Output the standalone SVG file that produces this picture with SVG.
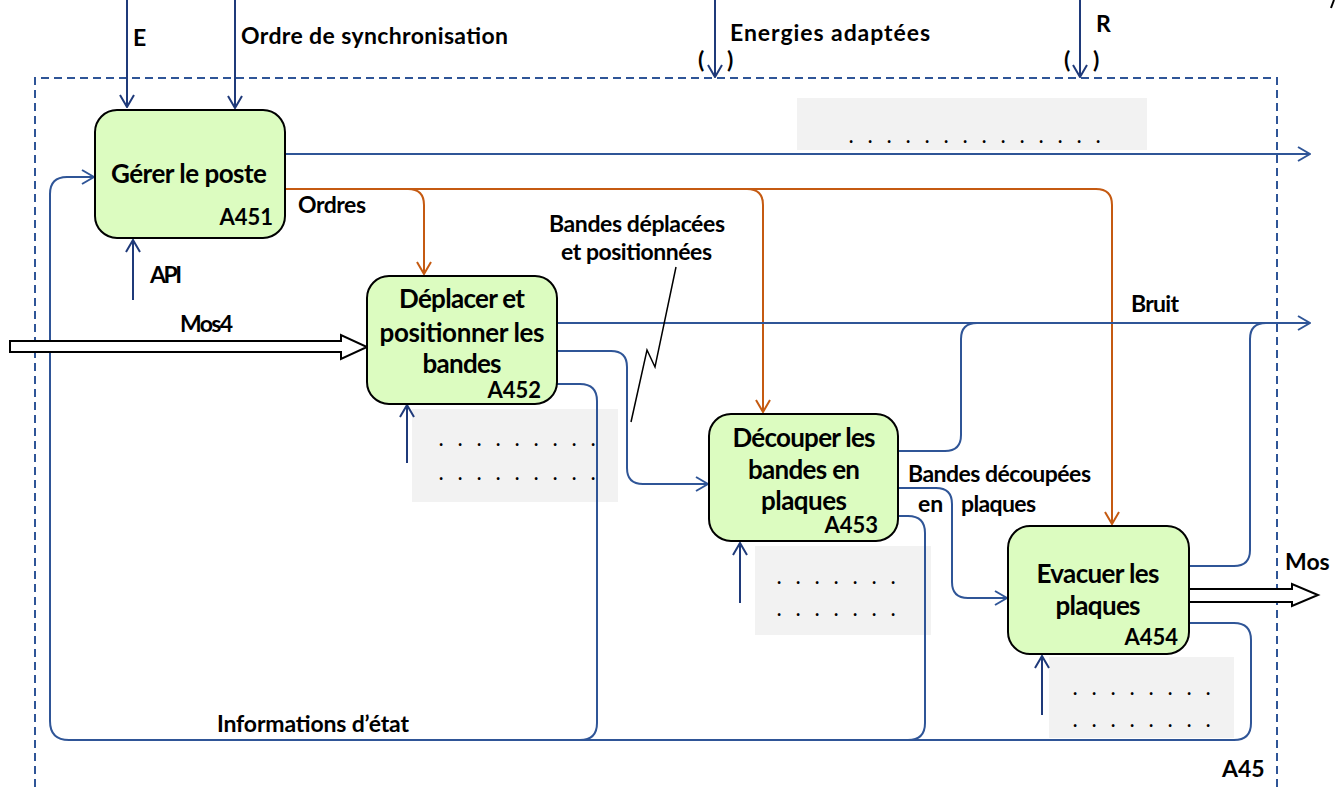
<svg xmlns="http://www.w3.org/2000/svg" width="1335" height="787" viewBox="0 0 1335 787">
<defs>
<style>
.t{font-family:Lato,"Liberation Sans",sans-serif;font-weight:bold;fill:#000}
.lb{font-size:23px}
.bx{font-size:26px}
.id{font-size:22px}
.dot{font-family:Lato,"Liberation Sans",sans-serif;font-weight:bold;font-size:18px;fill:#000}
.node{fill:#dcfcc0;stroke:#000;stroke-width:2}
.note{fill:#f2f2f2}
.bl{fill:none;stroke:#2f5597;stroke-width:2}
.nv{fill:none;stroke:#1f3a7a;stroke-width:2}
.or{fill:none;stroke:#c55a11;stroke-width:2}
.big{fill:#fff;stroke:#000;stroke-width:2}
</style>
<marker id="mb" viewBox="0 0 14 16" refX="13" refY="8" markerWidth="14" markerHeight="16" markerUnits="userSpaceOnUse" orient="auto"><path d="M1,1 L13,8 L1,15" fill="none" stroke="#2f5597" stroke-width="2"/></marker>
<marker id="mn" viewBox="0 0 14 16" refX="13" refY="8" markerWidth="14" markerHeight="16" markerUnits="userSpaceOnUse" orient="auto"><path d="M1,1 L13,8 L1,15" fill="none" stroke="#1f3a7a" stroke-width="2"/></marker>
<marker id="mo" viewBox="0 0 14 16" refX="13" refY="8" markerWidth="14" markerHeight="16" markerUnits="userSpaceOnUse" orient="auto"><path d="M1,1 L13,8 L1,15" fill="none" stroke="#c55a11" stroke-width="2"/></marker>
</defs>
<rect width="1335" height="787" fill="#fff"/>

<!-- boundary -->
<path d="M35,787 V78 H1277 V787" fill="none" stroke="#2f5597" stroke-width="2" stroke-dasharray="8,5"/>
<line x1="1334" y1="0" x2="1331" y2="8" stroke="#000" stroke-width="2"/>

<!-- notes -->
<g id="notes">
<rect class="note" x="797" y="98" width="350" height="52"/>
<text class="dot" x="849 868 887 906 925 944 963 982 1001 1020 1039 1058 1077 1096" y="143">..............</text>
<rect class="note" x="412" y="409" width="206" height="93"/>
<text class="dot" x="439 458 477 496 515 534 553 572 591" y="446">.........</text>
<text class="dot" x="439 458 477 496 515 534 553 572 591" y="480">.........</text>
<rect class="note" x="755" y="546" width="176" height="89"/>
<text class="dot" x="777 796 815 834 853 872 891" y="584">.......</text>
<text class="dot" x="777 796 815 834 853 872 891" y="616">.......</text>
<rect class="note" x="1049" y="657" width="185" height="81"/>
<text class="dot" x="1073 1092 1111 1130 1149 1168 1187 1206" y="695">........</text>
<text class="dot" x="1073 1092 1111 1130 1149 1168 1187 1206" y="727">........</text>
</g>

<!-- connectors -->
<g id="connectors">
<path class="nv" d="M127,0 V107" marker-end="url(#mn)"/>
<path class="nv" d="M235,0 V108" marker-end="url(#mn)"/>
<path class="nv" d="M715,0 V77" marker-end="url(#mn)"/>
<path class="nv" d="M1080,0 V77" marker-end="url(#mn)"/>
<path class="nv" d="M133,300 V240" marker-end="url(#mn)"/>
<path class="nv" d="M407,463 V405" marker-end="url(#mn)"/>
<path class="nv" d="M740,603 V543" marker-end="url(#mn)"/>
<path class="nv" d="M1042,715 V656" marker-end="url(#mn)"/>

<path class="bl" d="M285,154 H1310" marker-end="url(#mb)"/>
<path class="or" d="M285,189 H408 Q424,189 424,205 V274" marker-end="url(#mo)"/>
<path class="or" d="M285,189 H747 Q763,189 763,205 V412" marker-end="url(#mo)"/>
<path class="or" d="M285,189 H1096 Q1112,189 1112,205 V524" marker-end="url(#mo)"/>

<path class="bl" d="M557,323 H1310" marker-end="url(#mb)"/>
<path class="bl" d="M898,451 H945 Q961,451 961,435 V339 Q961,323 977,323"/>
<path class="bl" d="M1189,566 H1234 Q1250,566 1250,550 V339 Q1250,323 1266,323"/>

<path class="bl" d="M557,351 H611 Q627,351 627,367 V468 Q627,484 643,484 H708" marker-end="url(#mb)"/>
<path class="bl" d="M898,488 H936 Q952,488 952,504 V582 Q952,598 968,598 H1007" marker-end="url(#mb)"/>

<path class="bl" d="M1189,623 H1234 Q1251,623 1251,640 V723 Q1251,740 1234,740 H69 Q50,740 50,721 V194 Q50,177 67,177 H94" marker-end="url(#mb)"/>
<path class="bl" d="M557,384 H580 Q597,384 597,401 V723 Q597,740 580,740"/>
<path class="bl" d="M898,516 H908 Q925,516 925,533 V723 Q925,740 908,740"/>

<polygon class="big" points="10,341 341,341 341,335 367,347 341,359 341,352 10,352"/>
<polygon class="big" points="1189,589 1292,589 1292,584 1318,595 1292,606 1292,602 1189,602"/>

<polyline points="676,267 655,367 647,350 631,422" fill="none" stroke="#000" stroke-width="1.5"/>
</g>

<!-- nodes -->
<g id="A451">
<rect class="node" x="95" y="110" width="190" height="128" rx="22"/>
<text class="t bx" x="111" y="183" textLength="156">Gérer le poste</text>
<text class="t id" x="273" y="225" text-anchor="end">A451</text>
</g>
<g id="A452">
<rect class="node" x="367" y="276" width="190" height="128" rx="22"/>
<text class="t bx" x="462" y="308" text-anchor="middle" textLength="126">Déplacer et</text>
<text class="t bx" x="462" y="342" text-anchor="middle" textLength="165">positionner les</text>
<text class="t bx" x="462" y="373" text-anchor="middle" textLength="79">bandes</text>
<text class="t id" x="541" y="398" text-anchor="end">A452</text>
</g>
<g id="A453">
<rect class="node" x="709" y="414" width="189" height="127" rx="22"/>
<text class="t bx" x="804" y="447" text-anchor="middle" textLength="143">Découper les</text>
<text class="t bx" x="804" y="479" text-anchor="middle" textLength="112">bandes en</text>
<text class="t bx" x="804" y="510" text-anchor="middle" textLength="86">plaques</text>
<text class="t id" x="878" y="533" text-anchor="end">A453</text>
</g>
<g id="A454">
<rect class="node" x="1008" y="526" width="181" height="128" rx="22"/>
<text class="t bx" x="1098" y="583" text-anchor="middle" textLength="123">Evacuer les</text>
<text class="t bx" x="1098" y="615" text-anchor="middle" textLength="85">plaques</text>
<text class="t id" x="1178" y="645" text-anchor="end">A454</text>
</g>

<!-- labels -->
<g id="labels">
<text class="t lb" x="133" y="46">E</text>
<text class="t lb" x="241" y="44" textLength="267">Ordre de synchronisation</text>
<text class="t lb" x="730" y="41" textLength="200">Energies adaptées</text>
<text class="t lb" x="1096" y="32">R</text>
<text class="t lb" x="698" y="68">(</text>
<text class="t lb" x="727" y="68">)</text>
<text class="t lb" x="1064" y="68">(</text>
<text class="t lb" x="1093" y="68">)</text>
<text class="t lb" x="298" y="213" textLength="68">Ordres</text>
<text class="t lb" x="150" y="283" textLength="32">API</text>
<text class="t lb" x="549" y="232" textLength="176">Bandes déplacées</text>
<text class="t lb" x="561" y="260" textLength="151">et positionnées</text>
<text class="t lb" x="180" y="332" textLength="53">Mos4</text>
<text class="t lb" x="1131" y="312" textLength="48">Bruit</text>
<text class="t lb" x="908" y="482" textLength="183">Bandes découpées</text>
<text class="t lb" x="918" y="512">en</text>
<text class="t lb" x="961" y="512" textLength="75">plaques</text>
<text class="t lb" x="217" y="732" textLength="192">Informations d’état</text>
<text class="t lb" x="1222" y="777">A45</text>
<text class="t lb" x="1285" y="570">Mos</text>
</g>
</svg>
